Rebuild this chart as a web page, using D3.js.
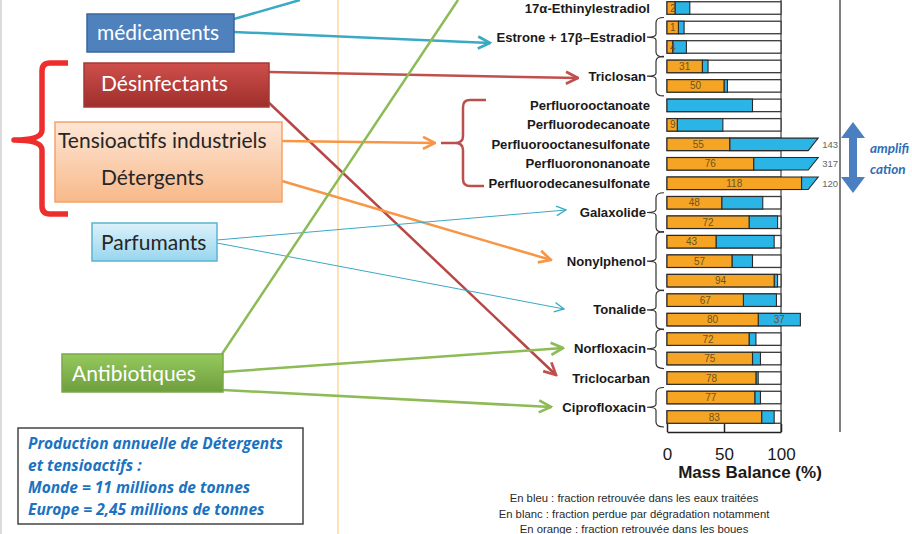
<!DOCTYPE html>
<html lang="fr">
<head>
    <meta charset="UTF-8">
    <title>Mass Balance</title>
    <script src="https://d3js.org/d3.v7.min.js"></script>
    <style>
        body { margin: 0; background: #fff; }
        svg { display: block; }
        .chem { font-family: "Liberation Sans", Arial, sans-serif; font-weight: bold; font-size: 13.1px; fill: #1a1a1a; }
        .val { font-family: "Liberation Sans", Arial, sans-serif; font-size: 10px; fill: #6b5420; }
        .tot { font-family: "Liberation Sans", Arial, sans-serif; font-size: 9.5px; fill: #666; }
        .box { font-family: Lato, "Open Sans", sans-serif; font-size: 21px; }
    </style>
</head>
<body>
<div id="chart"></div>
<script>
// compounds on the y axis, and how many bars each one has
const compounds = ["17α-Ethinylestradiol", "Estrone + 17β–Estradiol", "Triclosan", "Perfluorooctanoate",
    "Perfluorodecanoate", "Perfluorooctanesulfonate", "Perfluorononanoate", "Perfluorodecanesulfonate",
    "Galaxolide", "Nonylphenol", "Tonalide", "Norfloxacin", "Triclocarban", "Ciprofloxacin"];
const barsPerCompound = [1, 2, 2, 1, 1, 1, 1, 1, 2, 3, 2, 2, 1, 2];

// one value per bar (%): orange = sludge, blue = treated water, the rest to 100 is white
const sludge = [7, 10, 5, 31, 50, 0, 9, 55, 76, 118, 48, 72, 43, 57, 94, 67, 80, 72, 75, 78, 77, 83];
const sludgeLabels = ["2", "1", "4", "31", "50", "", "9", "55", "76", "118", "48", "72", "43", "57", "94", "67", "80", "72", "75", "78", "77", "83"];
const water = [13, 5, 12, 5, 3, 75, 40, 88, 241, 2, 36, 25, 51, 18, 3, 29, 37, 6, 7, 2, 5, 11];
const waterLabels = ["", "", "", "", "", "", "", "", "", "", "", "", "", "", "", "", "37", "", "", "", "", ""];
// broken (amplified) bars get their total printed at the end
const totalLabels = ["", "", "", "", "", "", "", "143", "317", "120", "", "", "", "", "", "", "", "", "", "", "", ""];
const xTicks = [0, 50, 100];

const legendLines = ["En bleu : fraction retrouvée dans les eaux traitées",
    "En blanc : fraction perdue par dégradation notamment",
    "En orange : fraction retrouvée dans les boues"];
const infoLines = ["Production annuelle de Détergents", "et tensioactifs :",
    "Monde = 11 millions de tonnes", "Europe  = 2,45 millions de tonnes"];

const W = 912, H = 534;
const svg = d3.select("#chart").append("svg").attr("width", W).attr("height", H);
const defs = svg.append("defs");

function grad(id, c1, c2) {
    const g = defs.append("linearGradient").attr("id", id).attr("x1", 0).attr("y1", 0).attr("x2", 0).attr("y2", 1);
    g.append("stop").attr("offset", "0%").attr("stop-color", c1);
    g.append("stop").attr("offset", "100%").attr("stop-color", c2);
}
grad("gRed", "#cf4f4b", "#9e2f2c");
grad("gPeach", "#fde6d6", "#f8b98a");
grad("gSky", "#dcf1fa", "#98d6ee");
grad("gGreen", "#95c95d", "#6f9e3e");

function marker(id, color, size, sw) {
    defs.append("marker").attr("id", id)
        .attr("viewBox", "0 0 10 10").attr("refX", 9).attr("refY", 5)
        .attr("markerUnits", "userSpaceOnUse")
        .attr("markerWidth", size).attr("markerHeight", size)
        .attr("orient", "auto")
        .append("path").attr("d", "M1,1 L9,5 L1,9")
        .attr("fill", "none").attr("stroke", color).attr("stroke-width", sw)
        .attr("stroke-linejoin", "miter");
}
marker("aCyan", "#3aa9c4", 15, 1.8);
marker("aCyanThin", "#3aa9c4", 12, 1.1);
marker("aRed", "#c0504d", 15, 1.8);
marker("aOrange", "#f79646", 15, 1.8);
marker("aGreen", "#8dbb55", 15, 1.8);

// panel edges
svg.append("line").attr("x1", 1).attr("x2", 1).attr("y1", 0).attr("y2", H).attr("stroke", "#cfcfcf").attr("stroke-width", 1.5);
svg.append("line").attr("x1", 338).attr("x2", 338).attr("y1", 0).attr("y2", H).attr("stroke", "#fbd9a0").attr("stroke-width", 1.5);

// ---------- chart ----------
const x = d3.scaleLinear().domain([0, 100]).range([667, 781]);
const nBars = sludge.length;
const y = d3.scalePoint().domain(d3.range(nBars)).range([8, 417]);
const bh = 12.5;
const cap = 130;
const axisY = 432;

const chart = svg.append("g");

chart.append("line").attr("x1", x(100)).attr("x2", x(100)).attr("y1", 0).attr("y2", axisY)
    .attr("stroke", "#444").attr("stroke-width", 1.2);
chart.append("line").attr("x1", 840).attr("x2", 840).attr("y1", 0).attr("y2", axisY)
    .attr("stroke", "#555").attr("stroke-width", 1.5);

const rows = d3.range(nBars).map(i => ({
    i, o: sludge[i], b: water[i], ol: sludgeLabels[i], bl: waterLabels[i], tl: totalLabels[i]
}));

const bars = chart.selectAll("g.bar").data(rows).enter().append("g").attr("class", "bar")
    .attr("transform", d => `translate(0,${y(d.i) - bh / 2})`);

// white frame to 100
bars.append("rect").attr("x", x(0)).attr("width", x(100) - x(0)).attr("height", bh)
    .attr("fill", "#fff").attr("stroke", "#3a3a3a").attr("stroke-width", 1.3);

// blue part (ordinary rows)
bars.filter(d => !d.tl && d.b > 0).append("rect")
    .attr("x", d => x(d.o)).attr("width", d => x(d.o + d.b) - x(d.o)).attr("height", bh)
    .attr("fill", "#2bb5e6").attr("stroke", "#2a2a2a").attr("stroke-width", 1.1);

// blue part of broken bars, slanted end
bars.filter(d => d.tl).append("path")
    .attr("d", d => `M${x(d.o)},0 L${x(cap) + 3},0 L${x(cap) - 7},${bh} L${x(d.o)},${bh} Z`)
    .attr("fill", "#2bb5e6").attr("stroke", "#2a2a2a").attr("stroke-width", 1.1);

bars.filter(d => d.o > 0).append("rect")
    .attr("x", x(0)).attr("width", d => x(d.o) - x(0)).attr("height", bh)
    .attr("fill", "#f6a424").attr("stroke", "#2a2a2a").attr("stroke-width", 1.1);

bars.filter(d => d.ol).append("text").attr("class", "val")
    .attr("x", d => d.o < 12 ? x(0) + 3 : (x(0) + x(d.o)) / 2)
    .attr("y", bh / 2 + 3.6)
    .attr("text-anchor", d => d.o < 12 ? "start" : "middle")
    .text(d => d.ol);

bars.filter(d => d.bl).append("text").attr("class", "val")
    .attr("x", d => (x(d.o) + x(d.o + d.b)) / 2).attr("y", bh / 2 + 3.6)
    .attr("text-anchor", "middle").text(d => d.bl);

bars.filter(d => d.tl).append("text").attr("class", "tot")
    .attr("x", x(cap) + 7).attr("y", bh / 2 + 3.6).text(d => d.tl);

// compound labels and braces
let start = 0;
compounds.forEach((name, k) => {
    const n = barsPerCompound[k];
    const y0 = y(start), y1 = y(start + n - 1);
    const ym = (y0 + y1) / 2;
    if (n > 1) {
        const bx = 656, top = y0 - 10, bot = y1 + 10;
        chart.append("path")
            .attr("d", `M${bx + 8},${top} Q${bx},${top} ${bx},${top + 5} L${bx},${ym - 3} Q${bx},${ym} ${bx - 9},${ym} ` +
                `Q${bx},${ym} ${bx},${ym + 3} L${bx},${bot - 5} Q${bx},${bot} ${bx + 8},${bot}`)
            .attr("fill", "none").attr("stroke", "#333").attr("stroke-width", 1.2);
    }
    chart.append("text").attr("class", "chem")
        .attr("x", n > 1 ? 646 : 650).attr("y", ym + 4.5).attr("text-anchor", "end").text(name);
    start += n;
});

// x axis
const axis = chart.append("g").attr("transform", `translate(0,${axisY})`)
    .call(d3.axisBottom(x).tickValues(xTicks).tickSizeInner(-8).tickSizeOuter(0).tickPadding(16));
axis.select(".domain").attr("stroke", "#222").attr("stroke-width", 1.5);
axis.selectAll(".tick line").attr("stroke", "#222").attr("stroke-width", 1.5);
axis.selectAll(".tick text").attr("font-family", "Liberation Sans, Arial, sans-serif")
    .attr("font-size", 17).attr("fill", "#1a1a1a");

chart.append("text").attr("x", 750).attr("y", 478).attr("text-anchor", "middle")
    .attr("font-family", "Liberation Sans, Arial, sans-serif").attr("font-weight", "bold")
    .attr("font-size", 17).attr("fill", "#1a1a1a").text("Mass Balance (%)");

chart.selectAll("text.leg").data(legendLines).enter().append("text").attr("class", "leg")
    .attr("x", 634).attr("y", (d, i) => 502 + i * 15.5).attr("text-anchor", "middle")
    .attr("font-family", "Liberation Sans, Arial, sans-serif").attr("font-size", 11.3)
    .attr("fill", "#2a2a2a").text(d => d);

// amplification arrow
svg.append("path")
    .attr("d", "M853,122 L865,138 L857,138 L857,177 L865,177 L853,193 L841,177 L849,177 L849,138 L841,138 Z")
    .attr("fill", "#4a7fc1");
svg.selectAll("text.amp").data(["amplifi", "cation"]).enter().append("text").attr("class", "amp")
    .attr("x", 870).attr("y", (d, i) => 153 + i * 21)
    .attr("font-family", "Lato, 'Open Sans', sans-serif").attr("font-style", "italic").attr("font-weight", "bold")
    .attr("font-size", 13.5).attr("fill", "#2e6db4").text(d => d);

// ---------- connectors ----------
function link(x1, y1, x2, y2, color, sw, mk) {
    const l = svg.append("line").attr("x1", x1).attr("y1", y1).attr("x2", x2).attr("y2", y2)
        .attr("stroke", color).attr("stroke-width", sw);
    if (mk) l.attr("marker-end", `url(#${mk})`);
}
link(234, 19, 300, 0, "#3aa9c4", 2.5);
link(234, 32, 490, 43, "#3aa9c4", 2.5, "aCyan");
link(269, 72, 578, 78, "#c0504d", 2.5, "aRed");
link(266, 100, 556, 375, "#b64744", 2.5, "aRed");
link(282, 141, 435, 143, "#f79646", 2.5, "aOrange");
link(282, 181, 551, 260, "#f79646", 2.5, "aOrange");
link(217, 240, 566, 210, "#3aa9c4", 1, "aCyanThin");
link(217, 243, 564, 309, "#3aa9c4", 1, "aCyanThin");
link(222, 354, 458, 0, "#8dbb55", 2.5);
link(223, 372, 563, 348, "#8dbb55", 2.5, "aGreen");
link(223, 390, 551, 407, "#8dbb55", 2.5, "aGreen");

// brace grouping the perfluoro compounds
svg.append("path")
    .attr("d", "M486,100 L470,100 Q463,100 463,107 L463,136 Q463,143 455,143 L441,143 M455,143 Q463,143 463,150 L463,179 Q463,186 470,186 L484,186")
    .attr("fill", "none").attr("stroke", "#b9504c").attr("stroke-width", 2.5);

// red bracket on the left
svg.append("path")
    .attr("d", "M68,63 L50,63 Q42,63 42,71 L42,130 Q42,140 14,140 Q42,140 42,150 L42,206 Q42,214 50,214 L68,214")
    .attr("fill", "none").attr("stroke", "#ee2d2d").attr("stroke-width", 5.5).attr("stroke-linejoin", "round");

// ---------- category boxes ----------
function box(x0, y0, w, h, fill, stroke) {
    svg.append("rect").attr("x", x0).attr("y", y0).attr("width", w).attr("height", h)
        .attr("fill", fill).attr("stroke", stroke).attr("stroke-width", 1.5);
}
function boxText(tx, ty, txt, color) {
    svg.append("text").attr("class", "box").attr("x", tx).attr("y", ty).attr("fill", color).text(txt);
}
box(87, 14, 147, 38, "#4f81bd", "#3a659a");
boxText(97, 40, "médicaments", "#fff");
box(84, 63, 185, 44, "url(#gRed)", "#a33a37");
boxText(101, 91, "Désinfectants", "#fff");
box(55, 122, 227, 80, "url(#gPeach)", "#f5a36a");
boxText(58, 148, "Tensioactifs industriels", "#262626");
boxText(101, 185, "Détergents", "#262626");
box(92, 223, 125, 38, "url(#gSky)", "#58b5d0");
boxText(101, 250, "Parfumants", "#262626");
box(62, 354, 161, 38, "url(#gGreen)", "#7aa84a");
boxText(72, 381, "Antibiotiques", "#fff");

// info box
box(18, 428, 285, 96, "#fff", "#444");
svg.selectAll("text.info").data(infoLines).enter().append("text").attr("class", "info")
    .attr("x", 28).attr("y", (d, i) => 449 + i * 22)
    .attr("font-family", "'Open Sans', Lato, sans-serif").attr("font-style", "italic").attr("font-weight", "bold")
    .attr("font-size", 15.5).attr("fill", "#1a72c0").text(d => d);
</script>
</body>
</html>
